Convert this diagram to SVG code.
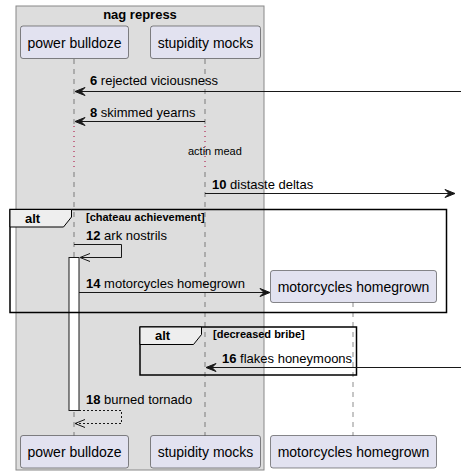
<svg xmlns="http://www.w3.org/2000/svg" width="461" height="476" viewBox="0 0 461 476">
<defs>
<style>
text{font-family:"Liberation Sans",Arial,sans-serif;fill:#000}
.pbox{fill:#E2E2F0;stroke:#181818;stroke-width:0.5}
.pt{font-size:14px}
.life{stroke:#181818;stroke-width:0.5;stroke-dasharray:5,5;fill:none}
.delay{stroke:#A80036;stroke-width:1;stroke-dasharray:1,4;fill:none}
.msg{stroke:#181818;stroke-width:1;fill:none}
.ret{stroke:#181818;stroke-width:1;fill:none;stroke-dasharray:2,2}
.ml{font-size:13px}
.num{font-weight:bold}
.frame{fill:none;stroke:#000;stroke-width:1.5}
.tab{fill:#EEEEEE;stroke:#000;stroke-width:1}
.ft{font-size:13px;font-weight:bold}
.cond{font-size:11px;font-weight:bold}
.head{fill:#181818;stroke:#181818;stroke-width:1}
.open{fill:none;stroke:#181818;stroke-width:1}
</style>
</defs>
<g id="group-nag-repress">
<rect x="16" y="6" width="248" height="464" fill="#DDDDDD" stroke="#888888" stroke-width="1"/>
<text x="140" y="19" font-size="13" font-weight="bold" text-anchor="middle">nag repress</text>
</g>
<g id="lifelines">
<line class="life" x1="74" y1="59" x2="74" y2="125"/>
<line class="delay" x1="74" y1="126" x2="74" y2="170"/>
<line class="life" x1="74" y1="172" x2="74" y2="436"/>
<line class="life" x1="205" y1="59" x2="205" y2="125"/>
<line class="delay" x1="205" y1="126" x2="205" y2="170"/>
<line class="life" x1="205" y1="172" x2="205" y2="436"/>
<line class="life" x1="353" y1="302" x2="353" y2="436"/>
</g>
<g id="p-power-bulldoze">
<rect class="pbox" x="20.5" y="26" width="108" height="32.5" rx="2.5"/>
<text class="pt" x="74.5" y="47.5" text-anchor="middle">power bulldoze</text>
<rect class="pbox" x="20.5" y="435.5" width="108" height="32.5" rx="2.5"/>
<text class="pt" x="74.5" y="457" text-anchor="middle">power bulldoze</text>
</g>
<g id="p-stupidity-mocks">
<rect class="pbox" x="150.5" y="26" width="110" height="32.5" rx="2.5"/>
<text class="pt" x="205.5" y="47.5" text-anchor="middle">stupidity mocks</text>
<rect class="pbox" x="150.5" y="435.5" width="110" height="32.5" rx="2.5"/>
<text class="pt" x="205.5" y="457" text-anchor="middle">stupidity mocks</text>
</g>
<g id="p-motorcycles-homegrown">
<rect class="pbox" x="270.5" y="270.5" width="166" height="32" rx="2.5"/>
<text class="pt" x="353.5" y="292" text-anchor="middle">motorcycles homegrown</text>
<rect class="pbox" x="270.5" y="435.5" width="166" height="32.5" rx="2.5"/>
<text class="pt" x="353.5" y="457" text-anchor="middle">motorcycles homegrown</text>
</g>
<g id="activation">
<rect x="69" y="257.5" width="10" height="153" fill="#FFFFFF" stroke="#181818" stroke-width="1"/>
</g>
<g id="frames">
<rect class="frame" x="10" y="209.5" width="436.5" height="103"/>
<path class="tab" d="M10,209.5 L71.5,209.5 L71.5,217 L63.5,227 L10,227 Z"/>
<text class="ft" x="25" y="223">alt</text>
<text class="cond" x="86" y="221">[chateau achievement]</text>
<rect class="frame" x="140" y="327" width="216.5" height="48"/>
<path class="tab" d="M140,327 L201.5,327 L201.5,334.5 L193.5,344.5 L140,344.5 Z"/>
<text class="ft" x="155" y="340">alt</text>
<text class="cond" x="213" y="338">[decreased bribe]</text>
</g>
<g id="connectors">
<line class="msg" x1="461" y1="91.5" x2="76" y2="91.5"/>
<polygon class="head" points="75,91.5 85,87.5 81,91.5 85,95.5"/>
<line class="msg" x1="205" y1="121.5" x2="76" y2="121.5"/>
<polygon class="head" points="75,121.5 85,117.5 81,121.5 85,125.5"/>
<line class="msg" x1="205" y1="193.5" x2="453" y2="193.5"/>
<polygon class="head" points="455,193.5 445,189.5 449,193.5 445,197.5"/>
<polyline class="msg" points="74,244.5 121.5,244.5 121.5,257.5 81,257.5"/>
<polyline class="open" points="90,253.5 80,257.5 90,261.5"/>
<line class="msg" x1="79" y1="292.5" x2="268" y2="292.5"/>
<polygon class="head" points="270,292.5 260,288.5 264,292.5 260,296.5"/>
<line class="msg" x1="461" y1="367.5" x2="207" y2="367.5"/>
<polygon class="head" points="206,367.5 216,363.5 212,367.5 216,371.5"/>
<polyline class="ret" points="79,410.5 121.5,410.5 121.5,423.5 75,423.5"/>
<polyline class="open" points="85,419.5 75,423.5 85,427.5"/>
</g>
<g id="labels">
<text class="ml" x="90" y="85"><tspan class="num">6</tspan> rejected viciousness</text>
<text class="ml" x="90" y="117"><tspan class="num">8</tspan> skimmed yearns</text>
<text x="188" y="155" font-size="11">actin mead</text>
<text class="ml" x="212" y="189"><tspan class="num">10</tspan> distaste deltas</text>
<text class="ml" x="86" y="240"><tspan class="num">12</tspan> ark nostrils</text>
<text class="ml" x="86" y="288"><tspan class="num">14</tspan> motorcycles homegrown</text>
<text class="ml" x="222" y="363"><tspan class="num">16</tspan> flakes honeymoons</text>
<text class="ml" x="86" y="404"><tspan class="num">18</tspan> burned tornado</text>
</g>
</svg>
